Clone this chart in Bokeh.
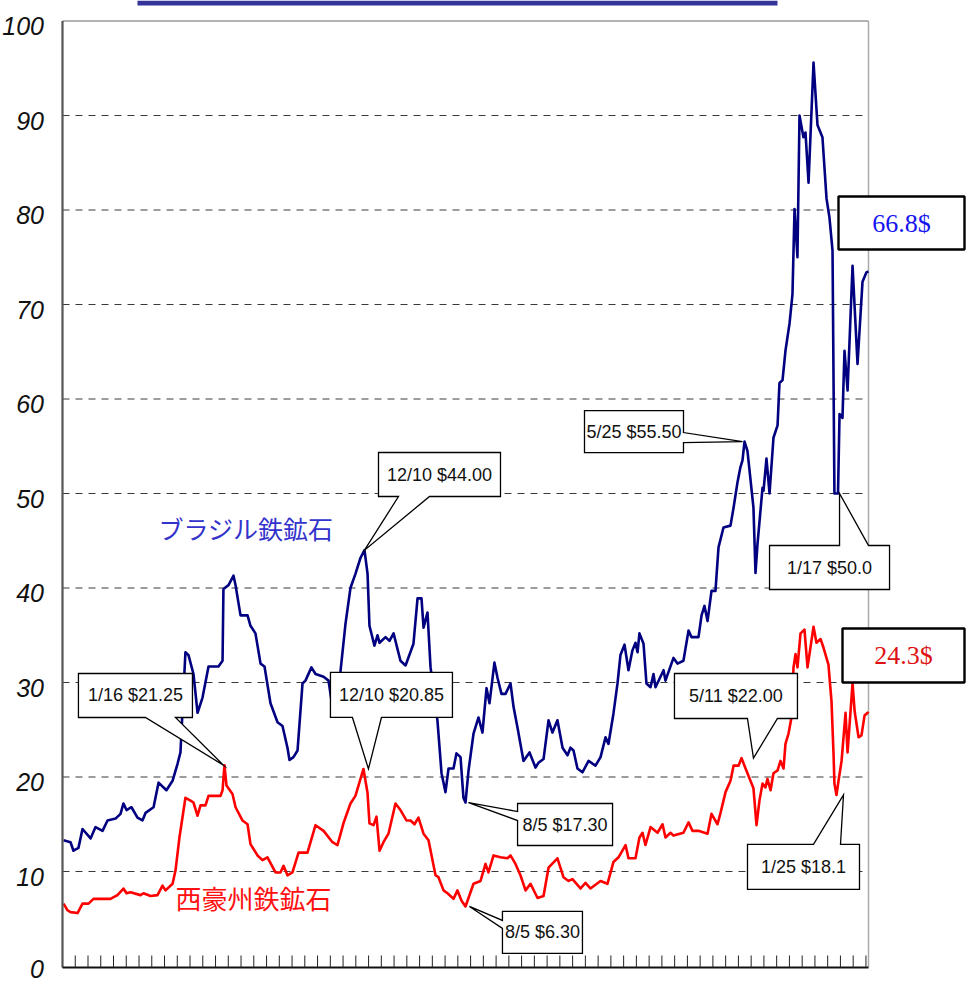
from bokeh.plotting import figure
from bokeh.models import Range1d
from bokeh.core.properties import value
from bokeh.embed import file_html
from bokeh.resources import INLINE

# ---------------- data (x = months from start of chart, y = US$/t) ----------------
br_x = [0.08, 0.63, 0.86, 1.25, 1.57, 2.20, 2.59, 3.14, 3.53, 4.16, 4.55, 4.78, 5.02, 5.41, 5.88, 6.27,
        6.51, 7.14, 7.53, 8.15, 8.63, 9.02, 9.25, 9.41, 9.64, 9.88, 10.27, 10.59, 10.98, 11.45, 12.23,
        12.55, 12.62, 13.02, 13.41, 13.57, 13.96, 14.51, 14.74, 15.13, 15.53, 15.84, 16.31, 16.86, 17.25,
        17.64, 17.80, 18.11, 18.43, 18.82, 19.05, 19.52, 19.84, 20.47, 20.86, 21.09, 21.33, 21.80, 22.19,
        22.58, 22.97, 23.37, 23.68, 23.92, 24.07, 24.46, 24.70, 24.86, 25.33, 25.64, 25.96, 26.50, 26.90,
        27.52, 27.84, 28.15, 28.31, 28.62, 28.86, 29.40, 29.72, 30.03, 30.27, 30.66, 30.89, 31.21, 31.44,
        31.60, 31.84, 32.23, 32.62, 32.93, 33.25, 33.48, 33.87, 34.11, 34.42, 34.74, 35.13, 35.37, 35.68,
        36.15, 36.62, 37.09, 37.32, 37.72, 38.11, 38.42, 38.81, 39.21, 39.60, 39.83, 40.07, 40.38, 40.77,
        41.25, 41.79, 42.19, 42.58, 42.81, 43.20, 43.52, 43.75, 44.07, 44.38, 44.69, 44.93, 45.09, 45.24,
        45.56, 45.79, 46.11, 46.34, 46.50, 47.13, 47.28, 47.91, 48.22, 48.69, 49.09, 49.32, 49.87, 50.11,
        50.34, 50.58, 50.89, 51.20, 51.44, 51.83, 52.38, 52.62, 52.93, 53.16, 53.32, 53.48, 53.71, 54.18,
        54.34, 54.50, 54.89, 54.97, 55.20, 55.44, 55.75, 56.07, 56.22, 56.46, 56.69, 57.01, 57.24, 57.40,
        57.63, 57.79, 58.10, 58.26, 58.50, 58.89, 59.20, 59.59, 59.91, 60.14, 60.38, 60.53, 60.81, 60.93,
        61.16, 61.32, 61.56, 61.95, 62.34, 62.73, 63.04, 63.20]
br_y = [13.3, 13.1, 12.2, 12.5, 14.5, 13.5, 14.7, 14.3, 15.4, 15.6, 16.1, 17.2, 16.5, 16.8, 15.7, 15.4,
        16.2, 16.8, 19.4, 18.6, 19.6, 21.4, 22.6, 27.0, 33.2, 32.9, 30.9, 26.8, 28.4, 31.7, 31.7,
        32.3, 39.9, 40.3, 41.3, 40.3, 37.1, 37.1, 36.0, 35.2, 32.0, 31.7, 27.8, 25.8, 25.4,
        23.1, 21.8, 22.1, 22.8, 29.9, 30.2, 31.6, 30.9, 30.6, 30.2, 28.1, 27.5, 31.2, 36.2,
        40.0, 41.5, 43.2, 44.0, 41.5, 36.0, 33.9, 35.0, 34.2, 34.8, 34.4, 35.2, 32.3, 31.8,
        34.1, 38.9, 38.9, 35.8, 37.4, 31.6, 26.0, 20.4, 18.4, 20.9, 20.9, 22.5, 22.1, 17.8,
        17.3, 20.7, 24.6, 26.3, 24.7, 29.4, 27.8, 32.1, 30.5, 28.8, 28.8, 29.9, 27.4, 25.2,
        21.7, 22.6, 21.0, 21.5, 21.9, 26.0, 24.7, 26.0, 23.1, 22.3, 23.1, 22.8, 20.9, 20.5,
        21.7, 21.2, 22.1, 24.2, 23.5, 26.7, 29.9, 32.9, 34.0, 31.3, 33.4, 34.2, 33.2, 35.2,
        34.1, 29.9, 29.5, 30.9, 29.5, 31.3, 30.2, 32.6, 32.0, 32.3, 35.5, 34.8, 34.8, 37.1,
        38.1, 36.5, 39.7, 39.7, 44.3, 46.4, 46.6, 48.5, 51.2, 52.8, 53.5, 55.5, 54.5, 48.5,
        41.6, 44.7, 50.6, 50.3, 53.7, 50.0, 55.9, 57.2, 61.7, 62.0, 65.1, 68.0, 71.1, 80.1,
        75.0, 90.0, 87.7, 88.2, 82.9, 95.6, 89.0, 87.7, 81.2, 79.2, 75.7, 50.0, 50.0, 58.4,
        58.0, 65.1, 60.9, 74.1, 63.7, 72.4, 73.4, 73.5]

wa_x = [0.08, 0.39, 0.63, 1.18, 1.57, 2.04, 2.43, 3.76, 4.31, 4.78, 5.02, 5.33, 6.12, 6.35, 6.90, 7.45,
        7.84, 8.08, 8.63, 8.86, 9.17, 9.64, 10.04, 10.27, 10.59, 10.82, 11.21, 11.45, 12.39, 12.55, 12.70,
        12.86, 13.33, 13.57, 14.11, 14.51, 14.74, 15.29, 15.68, 16.07, 16.70, 17.09, 17.33, 17.64, 18.03,
        18.51, 19.21, 19.84, 20.47, 21.17, 21.56, 22.03, 22.58, 22.97, 23.60, 23.92, 24.07, 24.39, 24.62,
        24.86, 25.17, 25.56, 26.11, 26.50, 26.97, 27.29, 27.60, 27.91, 28.31, 28.70, 29.25, 29.48, 29.88,
        30.19, 30.66, 30.97, 31.29, 31.60, 32.23, 32.78, 33.17, 33.40, 33.80, 34.34, 34.89, 35.13, 35.52,
        35.91, 36.31, 36.70, 37.25, 37.72, 38.11, 38.81, 39.28, 39.68, 39.99, 40.62, 41.01, 41.40, 42.19,
        42.73, 43.20, 43.60, 44.15, 44.38, 44.93, 45.24, 45.48, 45.71, 46.11, 46.66, 47.05, 47.28, 47.68,
        47.91, 48.69, 49.09, 49.40, 49.87, 50.58, 50.89, 51.36, 51.60, 51.99, 52.38, 52.62, 53.01, 53.24,
        53.71, 54.18, 54.42, 54.65, 54.89, 55.12, 55.28, 55.52, 55.75, 56.07, 56.30, 56.54, 56.69, 56.93,
        57.16, 57.32, 57.48, 57.63, 57.87, 58.18, 58.42, 58.89, 59.12, 59.44, 59.67, 60.06, 60.30, 60.46,
        60.53, 60.69, 60.85, 61.09, 61.40, 61.56, 61.95, 62.11, 62.42, 62.65, 62.89, 63.13, 63.20]
wa_y = [6.6, 5.9, 5.7, 5.6, 6.6, 6.6, 7.1, 7.1, 7.5, 8.2, 7.7, 7.8, 7.5, 7.7, 7.4, 7.5,
        8.5, 8.0, 8.7, 10.1, 13.6, 17.8, 17.5, 17.3, 15.9, 17.0, 17.0, 18.0, 18.0, 18.6, 21.25,
        19.1, 18.2, 16.8, 15.4, 15.0, 12.9, 11.7, 11.2, 11.5, 9.9, 9.9, 10.6, 9.6, 9.9,
        12.0, 12.0, 14.9, 14.3, 13.1, 12.8, 15.1, 17.2, 18.0, 20.85, 18.3, 15.1, 14.9, 15.8,
        12.2, 13.1, 14.0, 17.2, 16.5, 15.4, 15.4, 15.0, 15.7, 14.0, 13.3, 9.6, 9.4, 8.0,
        7.7, 7.1, 8.0, 6.9, 6.3, 8.7, 9.0, 10.8, 9.9, 11.7, 11.5, 11.4, 11.7, 10.8,
        9.6, 8.0, 8.7, 7.2, 7.4, 10.4, 11.4, 9.4, 9.0, 9.2, 8.2, 8.8, 8.2, 9.0,
        8.7, 11.0, 11.5, 12.8, 11.4, 11.4, 13.6, 14.1, 12.8, 14.7, 14.1, 15.0, 13.6, 14.1,
        13.8, 14.1, 15.2, 14.3, 14.3, 14.0, 16.1, 15.0, 16.2, 18.4, 19.6, 21.2, 21.2, 22.0,
        20.4, 18.8, 14.9, 17.5, 19.3, 18.9, 19.8, 18.6, 20.4, 20.7, 21.7, 20.9, 23.5, 24.6,
        26.3, 31.6, 33.0, 31.6, 35.2, 35.6, 31.6, 35.9, 34.2, 34.6, 33.7, 31.9, 28.0, 22.4,
        19.3, 18.1, 19.6, 21.7, 26.8, 22.6, 29.9, 27.0, 24.2, 24.4, 26.5, 26.8, 26.7]

x_axis_end = 63.2
x_ticks = list(range(1, 64))
y_ticks = [0, 10, 20, 30, 40, 50, 60, 70, 80, 90, 100]
y_tick_labels = ["0", "10", "20", "30", "40", "50", "60", "70", "80", "90", "100"]
grid_values = [10, 20, 30, 40, 50, 60, 70, 80, 90]

series_names = ["ブラジル鉄鉱石", "西豪州鉄鉱石"]

callout_text = ["1/16 $21.25", "12/10 $44.00", "12/10 $20.85", "8/5 $17.30", "8/5 $6.30",
                "5/25 $55.50", "5/11 $22.00", "1/17 $50.0", "1/25 $18.1"]
callout_x = [12.62, 23.68, 23.99, 31.84, 31.91, 53.32, 54.18, 60.93, 61.24]
callout_y = [21.25, 44.0, 20.85, 17.3, 6.3, 55.5, 22.0, 50.0, 18.1]

latest_text = ["66.8$", "24.3$"]

# ---------------- layout ----------------
SX = 12.753   # px per x unit
SY = 9.45     # px per y unit
W, H = 968, 984
X0 = -62 / SX
Y0 = -18.5 / SY
Y_TOP = Y0 + H / SY

p = figure(width=W, height=H, output_backend="svg", toolbar_location=None,
           x_range=Range1d(X0, X0 + W / SX), y_range=Range1d(Y0, Y_TOP),
           x_axis_location=None, y_axis_location=None,
           min_border=0, min_border_left=0, min_border_right=0,
           min_border_top=0, min_border_bottom=0)
p.outline_line_color = None
p.background_fill_color = "white"
p.border_fill_color = "white"
p.grid.visible = False

Y_AX = -1.5 / SY   # bottom axis line just below zero

# top title bar remnant
p.quad(left=[75 / SX], right=[715 / SX], top=[Y_TOP], bottom=[Y_TOP - 5 / SY],
       fill_color="#333399", line_color=None)

# dashed grid
p.segment(x0=[0] * len(grid_values), x1=[x_axis_end] * len(grid_values),
          y0=grid_values, y1=grid_values, line_color="#3a3a3a", line_width=1, line_dash="7 6")

# frame border
p.segment(x0=[0], x1=[x_axis_end], y0=[100], y1=[100], line_color="#999999", line_width=1.6)
p.segment(x0=[x_axis_end], x1=[x_axis_end], y0=[Y_AX], y1=[100], line_color="#aaaaaa", line_width=1.5)

# series
p.line(br_x, br_y, line_color="#000080", line_width=2.6, line_join="round")
p.line(wa_x, wa_y, line_color="#ff0000", line_width=2.6, line_join="round")

# axes (drawn)
p.segment(x0=[0], x1=[0], y0=[Y_AX], y1=[100], line_color="#555555", line_width=2.2)
p.segment(x0=[0], x1=[x_axis_end], y0=[Y_AX], y1=[Y_AX], line_color="#111111", line_width=2.2)
p.segment(x0=x_ticks, x1=x_ticks, y0=[Y_AX] * len(x_ticks), y1=[10.5 / SY] * len(x_ticks),
          line_color="#222222", line_width=1)

LAB_FONT = value("Liberation Sans")
label_shift = [(3 if v == 0 else 5) / SY for v in y_ticks]
p.text(x=[-18.5 / SX] * len(y_ticks), y=[v - s for v, s in zip(y_ticks, label_shift)], text=y_tick_labels,
       text_align="right", text_baseline="middle", text_font=LAB_FONT,
       text_font_style="italic", text_font_size="25px", text_color="#111111")

# series names
p.text(x=[96 / SX], y=[46.3], text=[series_names[0]], text_font=value("Noto Sans CJK JP"),
       text_font_size="25px", text_color="#3333cc", text_align="left", text_baseline="middle")
p.text(x=[113 / SX], y=[7.2], text=[series_names[1]], text_font=value("Noto Sans CJK JP"),
       text_font_size="26px", text_color="#ff1010", text_align="left", text_baseline="middle")

# callouts: (dx, dy, w, h, side, a, b) in screen px relative to tip
callout_layout = [
    (-88, -69.7, 114, 44, "bottom", 10, 40),
    (75, -75.7, 122, 44, "bottom", -41, -10),
    (23, -74, 122, 45, "bottom", -39, -10),
    (96.5, 22, 95, 42, "left", -13, -4),
    (73, 26, 80, 42, "left", -12, -4),
    (-108.5, -10, 99, 42, "right", 1, 11),
    (-17.5, -62.1, 123, 45, "bottom", 11.5, 41.5),
    (-10, 74, 120, 44, "top", 10, 39),
    (-40, 72, 112, 45, "top", 10, 37),
]

xs_list, ys_list, tx_list, ty_list = [], [], [], []
for tx, ty, (dx, dy, w, h, side, a, b) in zip(callout_x, callout_y, callout_layout):
    l, r, t, bt = dx - w / 2, dx + w / 2, dy - h / 2, dy + h / 2
    if side == "bottom":
        pts = [(l, t), (r, t), (r, bt), (dx + b, bt), (0, 0), (dx + a, bt), (l, bt)]
    elif side == "top":
        pts = [(l, t), (dx + a, t), (0, 0), (dx + b, t), (r, t), (r, bt), (l, bt)]
    elif side == "left":
        pts = [(l, t), (r, t), (r, bt), (l, bt), (l, dy + b), (0, 0), (l, dy + a)]
    else:
        pts = [(l, t), (r, t), (r, dy + a), (0, 0), (r, dy + b), (r, bt), (l, bt)]
    xs_list.append([tx + px / SX for px, _ in pts])
    ys_list.append([ty - py / SY for _, py in pts])
    tx_list.append(tx + dx / SX)
    ty_list.append(ty - dy / SY)

p.patches(xs_list, ys_list, fill_color="white", line_color="black", line_width=1.3, line_join="miter")
p.text(x=tx_list, y=ty_list, text=callout_text, text_align="center", text_baseline="middle",
       text_font=LAB_FONT, text_font_size="18px", text_color="#111111")

# latest price boxes
box_x = [839 / SX, 841 / SX]
box_y = [(965.5 - 222.5) / SY, (965.5 - 655) / SY]
p.rect(x=box_x, y=box_y, width=[126, 122], height=[53, 54], width_units="screen",
       height_units="screen", fill_color="white", line_color="black", line_width=2.4)
p.text(x=box_x, y=box_y, text=latest_text, text_align="center", text_baseline="middle",
       text_font=value("Liberation Serif"), text_font_size="26px",
       text_color=["#1414f0", "#dd1111"])

open("out.html", "w").write(file_html(p, INLINE))
